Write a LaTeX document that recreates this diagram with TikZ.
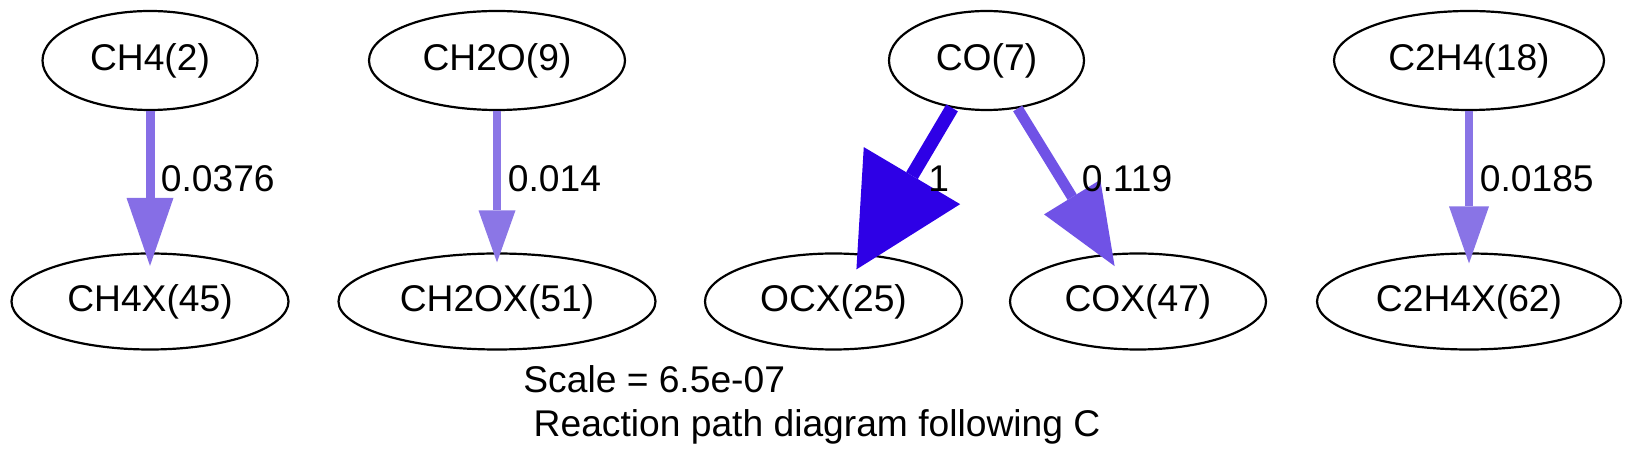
\documentclass[tikz,border=0pt]{standalone}
\usepackage{fontspec}
\setmainfont{Liberation Sans}
\usetikzlibrary{arrows.meta,shapes.geometric}
\definecolor{fluxA}{RGB}{134,110,230}
\definecolor{fluxB}{RGB}{139,118,230}
\definecolor{fluxC}{RGB}{46,0,230}
\definecolor{fluxD}{RGB}{112,82,230}
\definecolor{fluxE}{RGB}{137,116,230}
\begin{document}
\begin{tikzpicture}[x=0.5pt,y=-0.5pt,
  txt/.style={font=\fontsize{18.6pt}{22pt}\selectfont},
  species/.style={ellipse, draw=black, line width=1.1pt, inner sep=0pt, txt},
  toprow/.style={species, minimum height=49.5pt},
  botrow/.style={species, minimum height=48pt},
  lbl/.style={anchor=base west, inner sep=0pt, txt},
  flux/.style n args={4}{draw=#1, line width=#2,
    -{Triangle[length=#3, width=#4, line width=0pt]}}
]
\useasboundingbox (0,0) rectangle (1632,469);
% species, top row
\node[toprow, minimum width=107.5pt] (ch4)  at (150,60.5)  {CH4(2)};
\node[toprow, minimum width=128pt]   (ch2o) at (497,60.5)  {CH2O(9)};
\node[toprow, minimum width=97.5pt]  (co)   at (986.5,60.5) {CO(7)};
\node[toprow, minimum width=135pt]   (c2h4) at (1469,60.5) {C2H4(18)};
% species, bottom row
\node[botrow, minimum width=138.5pt] (ch4x)  at (150,301.5)  {CH4X(45)};
\node[botrow, minimum width=158.5pt] (ch2ox) at (497,301.5)  {CH2OX(51)};
\node[botrow, minimum width=128.5pt] (ocx)   at (833.5,301.5) {OCX(25)};
\node[botrow, minimum width=128pt]   (cox)   at (1138,301.5) {COX(47)};
\node[botrow, minimum width=152pt]   (c2h4x) at (1469,301.5) {C2H4X(62)};
% fluxes
\draw[flux={fluxA}{4.5pt}{34pt}{23.5pt}, shorten >=-6.75pt] (ch4) -- (ch4x);
\draw[flux={fluxB}{4pt}{26pt}{18.5pt}, shorten >=-5pt] (ch2o) -- (ch2ox);
\draw[flux={fluxC}{6.75pt}{54.5pt}{56pt}, shorten >=-9pt] (co.234.7) -- (ocx.56.3);
\draw[flux={fluxD}{5.35pt}{40.5pt}{33pt}, shorten >=-7.2pt] (co.303.15) -- (cox.123.3);
\draw[flux={fluxE}{4pt}{28.5pt}{20pt}, shorten >=-5.5pt] (c2h4) -- (c2h4x);
% flux labels
\node[lbl] (lA) at (160.5,192) {0.0376};
\node[lbl] (lB) at (507.5,192) {0.014};
\node[lbl] (lC) at (928,192) {1};
\node[lbl] (lD) at (1081.5,192) {0.119};
\node[lbl] (lE) at (1479.5,192) {0.0185};
% caption
\node[lbl] (scale) at (523,393) {Scale = 6.5e-07};
\node[lbl] (title) at (523,437) {~Reaction path diagram following C};
\end{tikzpicture}
\end{document}
